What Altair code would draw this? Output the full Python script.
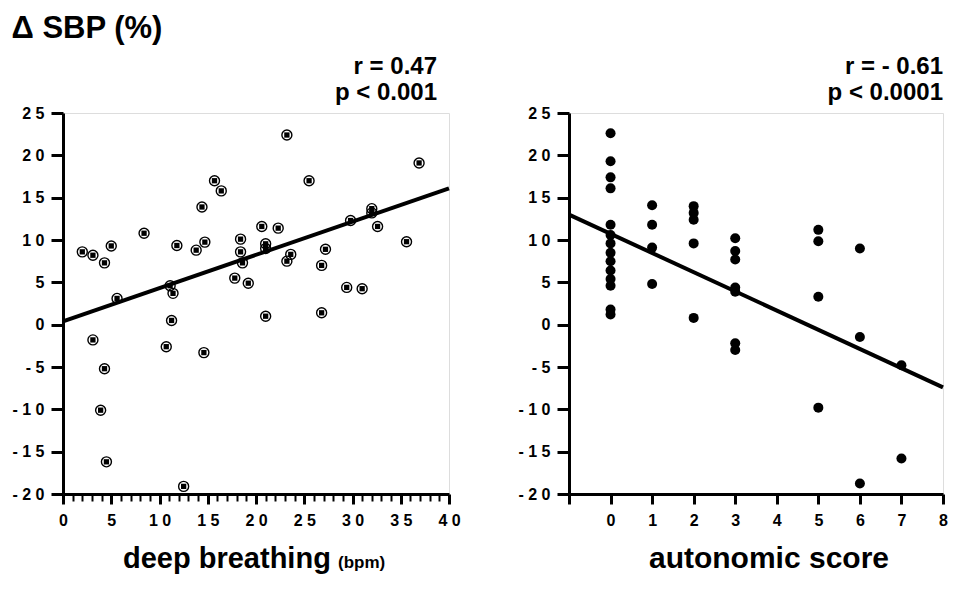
import altair as alt
import pandas as pd

# ---- data ----
db_x = [2.0, 3.1, 4.3, 5.0, 5.6, 8.4, 11.1, 11.4, 11.25, 11.8, 13.8, 14.7, 14.4, 15.7,
        16.4, 17.8, 18.4, 18.4, 18.6, 19.2, 20.6, 21.0, 21.0, 21.0, 22.3, 23.2, 23.6,
        23.2, 25.5, 26.8, 27.2, 26.8, 29.4, 29.8, 31.0, 32.0, 32.0, 32.6, 35.6, 36.9,
        3.1, 10.7, 14.6, 4.3, 3.9, 4.5, 12.5]
db_y = [8.6, 8.2, 7.3, 9.3, 3.1, 10.8, 4.6, 3.7, 0.5, 9.35, 8.8, 9.75, 13.9, 17.0,
        15.8, 5.5, 10.1, 8.6, 7.3, 4.9, 11.6, 9.55, 9.0, 1.0, 11.4, 22.4, 8.3,
        7.5, 17.0, 7.0, 8.9, 1.4, 4.4, 12.3, 4.25, 13.7, 13.2, 11.6, 9.8, 19.1,
        -1.8, -2.6, -3.3, -5.2, -10.1, -16.2, -19.1]

as_x = [0] * 14 + [1] * 4 + [2] * 5 + [3] * 7 + [5] * 4 + [6] * 3 + [7] * 2
as_y = [22.6, 19.3, 17.4, 16.1, 11.8, 10.6, 9.6, 8.5, 7.5, 6.4, 5.4, 4.6, 1.8, 1.2,
        14.1, 11.8, 9.1, 4.8,
        14.0, 13.2, 12.4, 9.6, 0.8,
        10.2, 8.7, 7.7, 4.4, 3.9, -2.2, -3.0,
        11.2, 9.85, 3.3, -9.8,
        9.0, -1.45, -18.75,
        -4.8, -15.8]

fit_db_x = [0, 40]
fit_db_y = [0.4, 16.1]
fit_as_x = [-1, 8]
fit_as_y = [13.0, -7.4]

y_ticks = [-20, -15, -10, -5, 0, 5, 10, 15, 20, 25]
db_ticks = list(range(0, 41))
as_ticks = list(range(-1, 9))

title_main = "Δ SBP (%)"
stat_db = ["r = 0.47", "p < 0.001"]
stat_as = ["r = - 0.61", "p < 0.0001"]

FONT = "Liberation Sans"
W1, W2, H = 386, 374, 381

space_expr = "join(split(toString(datum.value), ''), ' ')"

common_axis = dict(
    domainWidth=3, domainColor="black", tickColor="black", labelColor="black",
    labelFont=FONT, labelFontSize=16, labelFontWeight="bold", grid=False, title=None,
    labelFlush=False, labelOverlap=False,
)

y_axis = alt.Axis(values=y_ticks, labelExpr=space_expr, tickSize=12, tickWidth=3,
                  labelPadding=7, **common_axis)

x_axis_db = alt.Axis(
    values=db_ticks,
    labelExpr="datum.value % 5 == 0 ? " + space_expr + " : ''",
    tickSize={"condition": {"test": "datum.value % 5 == 0", "value": 10}, "value": 7},
    tickWidth={"condition": {"test": "datum.value % 5 == 0", "value": 3}, "value": 2},
    labelPadding=8, **common_axis)

x_axis_as = alt.Axis(
    values=as_ticks,
    labelExpr="datum.value < 0 ? '' : " + space_expr,
    tickSize=10, tickWidth=3, labelPadding=8, **common_axis)

y_scale = alt.Scale(domain=[-20, 25], nice=False, zero=False)

# ---- left panel ----
df_db = pd.DataFrame({"x": db_x, "y": db_y})
fit_db = pd.DataFrame({"x": fit_db_x, "y": fit_db_y})

xs_db = alt.X("x:Q", scale=alt.Scale(domain=[0, 40], nice=False, zero=False), axis=x_axis_db)
ys = alt.Y("y:Q", scale=y_scale, axis=y_axis)

ring = alt.Chart(df_db).mark_point(shape="circle", filled=False, color="black",
                                    strokeWidth=1.4, size=100, opacity=1).encode(x=xs_db, y=ys)
core = alt.Chart(df_db).mark_point(shape="square", filled=True, color="black",
                                    size=28, opacity=1).encode(x=xs_db, y=ys)
line_db = alt.Chart(fit_db).mark_line(color="black", strokeWidth=4).encode(x=xs_db, y=ys)

lab1 = alt.Chart(pd.DataFrame({"t": ["deep breathing"]})).mark_text(
    align="left", baseline="alphabetic", fontSize=29, fontWeight="bold", font=FONT,
    color="black").encode(text="t:N", x=alt.value(60), y=alt.value(455))
lab2 = alt.Chart(pd.DataFrame({"t": ["(bpm)"]})).mark_text(
    align="left", baseline="alphabetic", fontSize=17, fontWeight="bold", font=FONT,
    color="black").encode(text="t:N", x=alt.value(275), y=alt.value(455))

left = alt.layer(line_db, ring, core, lab1, lab2).properties(
    width=W1, height=H,
    title=alt.TitleParams(text=stat_db, anchor="end", frame="group", fontSize=24,
                          font=FONT, fontWeight="bold", lineHeight=26, offset=0,
                          dx=-12, color="black"))

# ---- right panel ----
df_as = pd.DataFrame({"x": as_x, "y": as_y})
fit_as = pd.DataFrame({"x": fit_as_x, "y": fit_as_y})
xs_as = alt.X("x:Q", scale=alt.Scale(domain=[-1, 8], nice=False, zero=False), axis=x_axis_as)

dots = alt.Chart(df_as).mark_point(shape="circle", filled=True, color="black",
                                    size=100, opacity=1).encode(x=xs_as, y=ys)
line_as = alt.Chart(fit_as).mark_line(color="black", strokeWidth=4).encode(x=xs_as, y=ys)
lab3 = alt.Chart(pd.DataFrame({"t": ["autonomic score"]})).mark_text(
    align="center", baseline="alphabetic", fontSize=30, fontWeight="bold", font=FONT,
    color="black").encode(text="t:N", x=alt.value(200), y=alt.value(455))

right = alt.layer(line_as, dots, lab3).properties(
    width=W2, height=H,
    title=alt.TitleParams(text=stat_as, anchor="end", frame="group", fontSize=24,
                          font=FONT, fontWeight="bold", lineHeight=26, offset=0,
                          dx=0, color="black"))

chart = alt.hconcat(left, right, spacing=56).properties(
    title=alt.TitleParams(text=title_main, anchor="start", fontSize=31, font=FONT,
                          fontWeight="bold", color="black", offset=10),
    padding={"left": 3, "top": 4, "right": 0, "bottom": 0},
).configure_view(stroke=None).configure(background="white")

chart.save("out.html", embed_options={"renderer": "svg", "actions": False})
